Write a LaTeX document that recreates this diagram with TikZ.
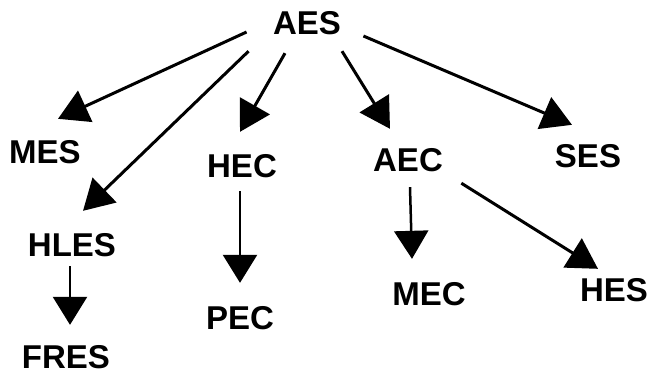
\documentclass[tikz,border=0pt]{standalone}
\usepackage{fontspec}
\setmainfont{Liberation Sans}
\usetikzlibrary{arrows.meta}
\tikzset{
	% ---- default
	every path/.style={line width=3pt},
	every node/.style={font=\fontsize{33}{40}\selectfont\bfseries, inner sep=0pt},
	% ---- custom
	unit/.style={anchor=center},
	link/.style={-{Triangle[length=30pt, width=34pt]}, line width=3pt},
	drop/.style={-{Triangle[length=28pt, width=34pt]}, line width=2.5pt},
}

\begin{document}
\begin{tikzpicture}[x=1pt, y=-1pt]

% frame %{{{2

	\useasboundingbox (0,0) rectangle (649,376);

% nodes %{{{2

	\node[unit] (AES)  at (307,23)  {AES};
	\node[unit] (MES)  at (45,152)  {MES};
	\node[unit] (HEC)  at (242,166) {HEC};
	\node[unit] (AEC)  at (408,160) {AEC};
	\node[unit] (SES)  at (588,156) {SES};
	\node[unit] (HLES) at (72,245)  {HLES};
	\node[unit] (PEC)  at (240,318) {PEC};
	\node[unit] (MEC)  at (429,294) {MEC};
	\node[unit] (HES)  at (614,290) {HES};
	\node[unit] (FRES) at (66,357)  {FRES};

% arrows from AES %{{{2

	\draw[link] ([shift={(-25,9)}]AES.west) -- ([shift={(13,-20)}]MES.north);
	\draw[link] ([shift={(-23,15)}]AES.south west) -- ([shift={(11,-21)}]HLES.north);
	\draw[link] ([shift={(-22,17)}]AES.south) -- ([shift={(-2,-21)}]HEC.north);
	\draw[link] ([shift={(35,15)}]AES.south) -- ([shift={(-18,-18)}]AEC.north);
	\draw[link] ([shift={(21,13)}]AES.east) -- ([shift={(-16,-18)}]SES.north);

% lower arrows %{{{2

	\draw[drop] ([shift={(-2,12)}]HEC.south) -- ([shift={(0,-22)}]PEC.north);
	\draw[drop] ([shift={(2,14)}]AEC.south) -- ([shift={(-17,-22)}]MEC.north);
	\draw[link] ([shift={(17,10)}]AEC.south east) -- ([shift={(-16,-8)}]HES.north);
	\draw[drop] ([shift={(-2,8)}]HLES.south) -- ([shift={(4,-19)}]FRES.north);

% closing %{{{2

\end{tikzpicture}
\end{document}
